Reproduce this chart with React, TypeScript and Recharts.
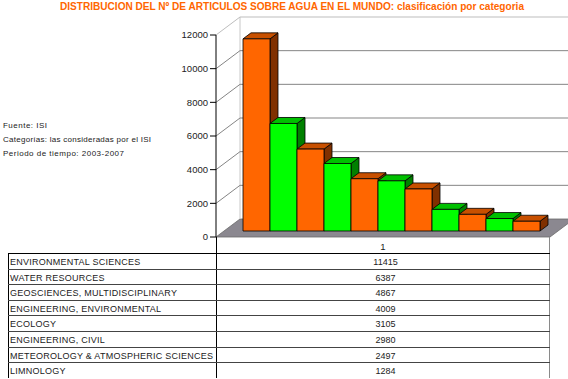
import { BarChart, Bar, XAxis, YAxis, CartesianGrid } from 'recharts';

const CATEGORIAS = [
    'ENVIRONMENTAL SCIENCES',
    'WATER RESOURCES',
    'GEOSCIENCES, MULTIDISCIPLINARY',
    'ENGINEERING, ENVIRONMENTAL',
    'ECOLOGY',
    'ENGINEERING, CIVIL',
    'METEOROLOGY & ATMOSPHERIC SCIENCES',
    'LIMNOLOGY',
    'OCEANOGRAPHY',
    'MARINE & FRESHWATER BIOLOGY',
    'AGRICULTURAL ENGINEERING',
];
const VALORES = [11415, 6387, 4867, 4009, 3105, 2980, 2497, 1284, 990, 740, 580];
const EJE_X = ['1'];
const TICKS_Y = [0, 2000, 4000, 6000, 8000, 10000, 12000];
const NOTAS = ['Fuente: ISI', 'Categorías: las consideradas por el ISI', 'Periodo de tiempo: 2003-2007'];
const TITULO = 'DISTRIBUCION DEL Nº DE ARTICULOS SOBRE AGUA EN EL MUNDO: clasificación por categoria';

const FUENTE = 'Liberation Sans, Arial, sans-serif';
const W = 568;
const H = 379;
const MARGEN = { top: 35, right: 18, bottom: 126, left: 156 };
const ALTO_X = 16;
const SUELO_Y = H - MARGEN.bottom - ALTO_X; // 237
const TECHO_Y = MARGEN.top;
const PROF_X = 24;
const PROF_Y = -18;
const FILA = 15.6;
const TABLA_TOP = 253;

const COLORES = [
    { frente: '#ff6600', techo: '#c85000', lado: '#803000' },
    { frente: '#00ff00', techo: '#00c000', lado: '#008000' },
];

// una fila con una serie por categoría
const datos = EJE_X.map(n => {
    const fila: Record<string, any> = { nombre: n };
    VALORES.forEach((v, i) => { fila['s' + i] = v; });
    return fila;
});

// la ventana solo deja ver las filas que caben
const filasVisibles = CATEGORIAS.filter((_, i) => TABLA_TOP + (i + 1) * FILA <= H + 2);

const Barra3D = (props: any) => {
    const { x, y, width, height, c } = props;
    if (height == null || width == null) return null;
    const X = x + 7;
    const Y = y - 6;
    const dx = 8, dy = -6;
    return (
        <g stroke="#000" strokeWidth={0.8} strokeLinejoin="round">
            <polygon
                points={`${X + width},${Y} ${X + width + dx},${Y + dy} ${X + width + dx},${Y + height + dy} ${X + width},${Y + height}`}
                fill={c.lado}
            />
            <polygon
                points={`${X},${Y} ${X + dx},${Y + dy} ${X + width + dx},${Y + dy} ${X + width},${Y}`}
                fill={c.techo}
            />
            <rect x={X} y={Y} width={width} height={height} fill={c.frente} />
        </g>
    );
};

const lineaFondo = (p: any) => {
    const { x1, y1, x2 } = p;
    const suelo = Math.abs(y1 - SUELO_Y) < 1;
    const techo = Math.abs(y1 - TECHO_Y) < 1;
    const color = techo ? '#bdbdbd' : '#858585';
    return (
        <g key={p.key ?? p.index}>
            {suelo && (
                <polygon
                    points={`${x1},${y1} ${x2},${y1} ${x2 + PROF_X},${y1 + PROF_Y} ${x1 + PROF_X},${y1 + PROF_Y}`}
                    fill="#8b8890"
                    stroke="#6a6a6a"
                    strokeWidth={0.8}
                />
            )}
            {suelo && (
                <line
                    x1={x1 + PROF_X} y1={y1 + PROF_Y}
                    x2={x1 + PROF_X} y2={TECHO_Y + PROF_Y}
                    stroke="#c8c8c8" strokeWidth={1}
                />
            )}
            {!suelo && <line x1={x1} y1={y1} x2={x1 + PROF_X} y2={y1 + PROF_Y} stroke={color} strokeWidth={1} />}
            {!suelo && <line x1={x1 + PROF_X} y1={y1 + PROF_Y} x2={x2 + PROF_X} y2={y1 + PROF_Y} stroke={color} strokeWidth={1} />}
        </g>
    );
};

export default function App() {
    const izq = MARGEN.left + 60; // 216
    const der = W - MARGEN.right; // 550

    return (
        <div style={{ position: 'absolute', left: 0, top: 0, width: W, height: H, overflow: 'hidden', background: '#fff', fontFamily: FUENTE }}>
            <BarChart width={W} height={H} data={datos} margin={MARGEN} barGap={0} barCategoryGap={20}>
                <CartesianGrid vertical={false} horizontal={lineaFondo} syncWithTicks />
                <XAxis
                    dataKey="nombre"
                    height={ALTO_X}
                    axisLine={false}
                    tickLine={false}
                    tickSize={4}
                    tickMargin={2}
                    tick={{ fontSize: 9.5, fill: '#222', fontFamily: FUENTE }}
                />
                <YAxis
                    width={60}
                    domain={[0, 12000]}
                    ticks={TICKS_Y}
                    interval={0}
                    axisLine={{ stroke: '#000' }}
                    tickLine={{ stroke: '#000' }}
                    tick={{ fontSize: 9.5, fill: '#222', fontFamily: FUENTE }}
                />
                {CATEGORIAS.map((cat, i) => (
                    <Bar
                        key={cat}
                        dataKey={'s' + i}
                        name={cat}
                        fill={COLORES[i % 2].frente}
                        isAnimationActive={false}
                        shape={(p: any) => <Barra3D {...p} c={COLORES[i % 2]} />}
                    />
                ))}
            </BarChart>

            <svg width={W} height={H} style={{ position: 'absolute', left: 0, top: 0, pointerEvents: 'none' }}>
                <text x={60} y={10} textLength={464} lengthAdjust="spacingAndGlyphs" fontSize={10.5} fontWeight="bold" fill="#ff6600" fontFamily={FUENTE}>
                    {TITULO}
                </text>
                {NOTAS.map((t, i) => (
                    <text key={t} x={3} y={128 + i * 14} fontSize={8} fill="#222" fontFamily={FUENTE}
                        textLength={[44, 148, 121][i]} lengthAdjust="spacing">
                        {t}
                    </text>
                ))}
            </svg>

            {/* tabla de datos */}
            <div style={{ position: 'absolute', left: izq, top: SUELO_Y, width: der - izq, height: TABLA_TOP - SUELO_Y, borderLeft: '1px solid #000', borderRight: '1px solid #8a8a8a', boxSizing: 'border-box' }} />
            {filasVisibles.map((cat, i) => (
                <div key={cat} style={{ position: 'absolute', left: 8, top: TABLA_TOP + i * FILA, width: der - 8, height: FILA, borderTop: `1px solid ${i === 0 ? '#000' : '#444'}`, boxSizing: 'border-box', display: 'flex', fontSize: 9, color: '#222', lineHeight: `${FILA - 1}px` }}>
                    <div style={{ width: izq - 8, borderLeft: '1px solid #000', boxSizing: 'border-box', paddingLeft: 1, whiteSpace: 'nowrap', overflow: 'hidden', paddingTop: 1, letterSpacing: 0.25 }}>{cat}</div>
                    <div style={{ flex: 1, borderLeft: '1px solid #000', borderRight: '1px solid #8a8a8a', textAlign: 'center', paddingTop: 1, paddingLeft: 5 }}>{VALORES[i]}</div>
                </div>
            ))}
        </div>
    );
}
